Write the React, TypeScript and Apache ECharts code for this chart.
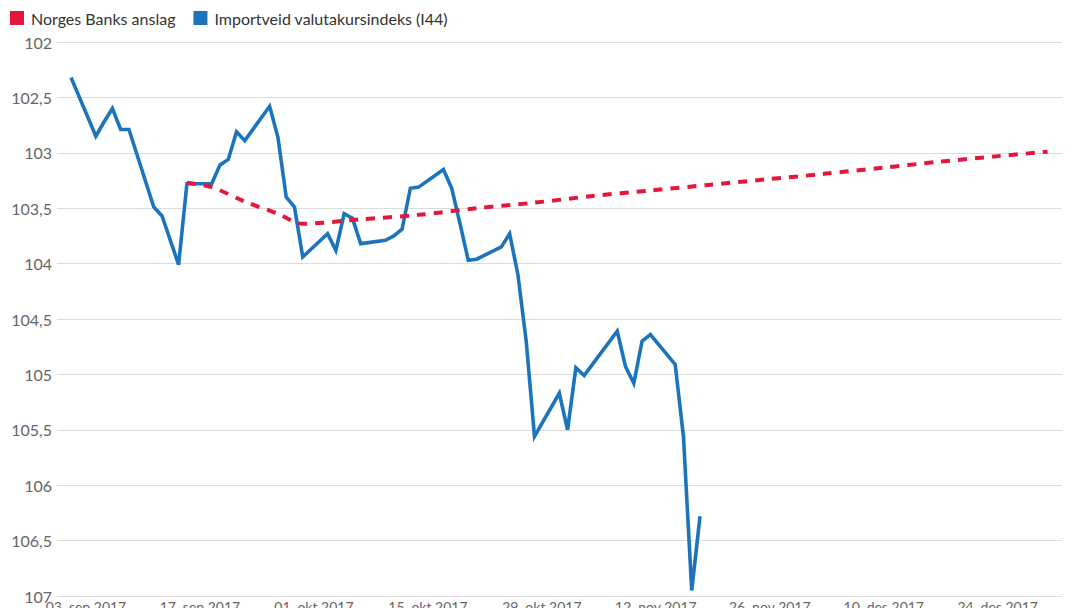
import React, { useEffect, useRef } from 'react';
import * as echarts from 'echarts';

// Importveid valutakursindeks (I44), daily (business days)
const BLUE_NAME = 'Importveid valutakursindeks (I44)';
const blueDates = [
  '2017-09-01', '2017-09-04', '2017-09-05', '2017-09-06', '2017-09-07', '2017-09-08',
  '2017-09-11', '2017-09-12', '2017-09-13', '2017-09-14', '2017-09-15',
  '2017-09-18', '2017-09-19', '2017-09-20', '2017-09-21', '2017-09-22',
  '2017-09-25', '2017-09-26', '2017-09-27', '2017-09-28', '2017-09-29',
  '2017-10-02', '2017-10-03', '2017-10-04', '2017-10-05', '2017-10-06',
  '2017-10-09', '2017-10-10', '2017-10-11', '2017-10-12', '2017-10-13',
  '2017-10-16', '2017-10-17', '2017-10-18', '2017-10-19', '2017-10-20',
  '2017-10-23', '2017-10-24', '2017-10-25', '2017-10-26', '2017-10-27',
  '2017-10-30', '2017-10-31', '2017-11-01', '2017-11-02', '2017-11-03',
  '2017-11-06', '2017-11-07', '2017-11-08', '2017-11-09', '2017-11-10',
  '2017-11-13', '2017-11-14', '2017-11-15', '2017-11-16',
];
const blueValues = [
  102.32, 102.85, 102.72, 102.6, 102.79, 102.79,
  103.49, 103.57, 103.79, 104.01, 103.28,
  103.28, 103.11, 103.06, 102.81, 102.89,
  102.58, 102.86, 103.4, 103.49, 103.94,
  103.73, 103.88, 103.55, 103.59, 103.82,
  103.79, 103.75, 103.69, 103.32, 103.31,
  103.15, 103.32, 103.64, 103.97, 103.96,
  103.85, 103.73, 104.1, 104.7, 105.56,
  105.17, 105.5, 104.94, 105.01, 104.91,
  104.61, 104.93, 105.08, 104.7, 104.64,
  104.91, 105.56, 106.95, 106.28,
];

// Norges Banks anslag
const RED_NAME = 'Norges Banks anslag';
const redDates = [
  '2017-09-15', '2017-09-18', '2017-09-22', '2017-09-26', '2017-09-29',
  '2017-10-06', '2017-10-13', '2017-10-20', '2017-10-27', '2017-11-03',
  '2017-11-10', '2017-11-17', '2017-11-24', '2017-12-01', '2017-12-08',
  '2017-12-15', '2017-12-22', '2017-12-28',
];
const redValues = [
  103.27, 103.31, 103.44, 103.55, 103.64,
  103.6, 103.56, 103.5, 103.45, 103.39,
  103.34, 103.29, 103.24, 103.19, 103.135,
  103.08, 103.03, 102.99,
];

// Axis ticks
const xTickDates = [
  '2017-09-03', '2017-09-17', '2017-10-01', '2017-10-15', '2017-10-29',
  '2017-11-12', '2017-11-26', '2017-12-10', '2017-12-24',
];
const monthsNo = ['jan', 'feb', 'mar', 'apr', 'mai', 'jun', 'jul', 'aug', 'sep', 'okt', 'nov', 'des'];
// data axis range
const X_MIN = '2017-08-30T07:20:00Z';
const X_MAX = '2017-12-29T17:45:00Z';
// date-label axis range (the source spaces its date labels slightly tighter)
const LABEL_MIN = '2017-08-30T10:30:00Z';
const LABEL_MAX = '2017-12-31T21:30:00Z';
const Y_MIN = 102;
const Y_MAX = 107;
const Y_STEP = 0.5;

const BLUE = '#1c75bc';
const RED = '#e3163c';
const FONT = 'Lato, "Open Sans", sans-serif';

function pad(n: number) {
  return n < 10 ? '0' + n : String(n);
}
function ts(d: string) {
  return Date.parse(d.length > 10 ? d : d + 'T00:00:00Z');
}

export default function App() {
  const ref = useRef<HTMLDivElement>(null);
  useEffect(() => {
    if (!ref.current) return;
    const chart = echarts.init(ref.current, null, { renderer: 'svg' });
    const blueData = blueDates.map((d, i) => [ts(d), blueValues[i]]);
    const redData = redDates.map((d, i) => [ts(d), redValues[i]]);
    chart.setOption({
      animation: false,
      backgroundColor: '#ffffff',
      textStyle: { fontFamily: FONT },
      grid: { left: 57, right: 18, top: 42, bottom: 12, containLabel: false, outerBoundsMode: 'none' },
      legend: {
        left: 5,
        top: 5,
        icon: 'rect',
        itemWidth: 14,
        itemHeight: 14,
        itemGap: 18,
        data: [RED_NAME, BLUE_NAME],
        textStyle: { fontFamily: FONT, fontSize: 16, color: '#333333', padding: [0, 0, 0, 2] },
      },
      xAxis: [
        {
          type: 'value',
          min: ts(X_MIN),
          max: ts(X_MAX),
          position: 'bottom',
          axisLine: { show: false, onZero: false },
          axisTick: { show: false },
          splitLine: { show: false },
          axisLabel: { show: false },
        },
        {
          type: 'value',
          min: ts(LABEL_MIN),
          max: ts(LABEL_MAX),
          position: 'bottom',
          axisLine: { show: false, onZero: false },
          axisTick: { show: false },
          splitLine: { show: false },
          axisLabel: {
            customValues: xTickDates.map((d) => ts(d)),
            formatter: (v: number) => {
              const d = new Date(v);
              return `${pad(d.getUTCDate())}. ${monthsNo[d.getUTCMonth()]} ${d.getUTCFullYear()}`;
            },
            fontFamily: FONT,
            fontSize: 14,
            lineHeight: 8,
            color: '#666666',
            margin: 6,
            hideOverlap: false,
          },
        },
      ],
      yAxis: {
        type: 'value',
        inverse: true,
        min: Y_MIN,
        max: Y_MAX,
        interval: Y_STEP,
        axisLine: { show: false },
        axisTick: { show: false },
        splitLine: { lineStyle: { color: '#dcdcdc', width: 1 } },
        axisLabel: {
          formatter: (v: number) => String(v).replace('.', ','),
          fontFamily: FONT,
          fontSize: 16,
          lineHeight: 8,
          color: '#666666',
          margin: 5,
        },
      },
      series: [
        {
          name: BLUE_NAME,
          type: 'line',
          xAxisIndex: 0,
          data: blueData,
          showSymbol: false,
          symbol: 'none',
          lineStyle: { color: BLUE, width: 3.6, join: 'miter' },
          itemStyle: { color: BLUE },
          z: 2,
        },
        {
          name: RED_NAME,
          type: 'line',
          xAxisIndex: 0,
          data: redData,
          showSymbol: false,
          symbol: 'none',
          smooth: 0.3,
          lineStyle: { color: RED, width: 4, type: [9, 8], cap: 'butt' },
          itemStyle: { color: RED },
          z: 3,
        },
      ],
    });
    return () => chart.dispose();
  }, []);
  return (
    <div
      ref={ref}
      style={{ position: 'absolute', left: 0, top: 0, width: 1080, height: 608, background: '#fff' }}
    />
  );
}
